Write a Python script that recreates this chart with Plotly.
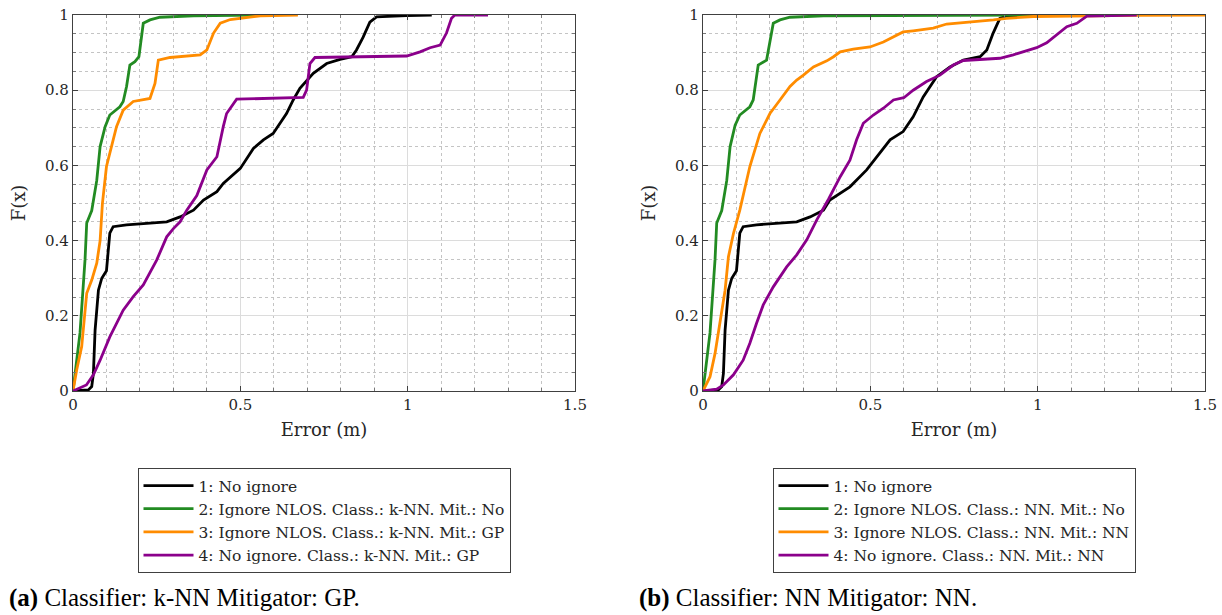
import plotly.graph_objects as go

# ---- (a) Classifier: k-NN, Mitigator: GP ----
a_none_x = [0, 0.046, 0.056, 0.061, 0.066, 0.076, 0.086, 0.1, 0.11, 0.12, 0.16, 0.28, 0.32, 0.36, 0.39, 0.43,
            0.449, 0.5, 0.539, 0.569, 0.598, 0.638, 0.658, 0.678, 0.718, 0.758, 0.798, 0.833, 0.847, 0.867,
            0.887, 0.907, 0.997, 1.072]
a_none_y = [0, 0.003, 0.012, 0.047, 0.162, 0.268, 0.3, 0.32, 0.42, 0.437, 0.442, 0.45, 0.463, 0.481, 0.508, 0.53,
            0.552, 0.592, 0.645, 0.668, 0.685, 0.738, 0.774, 0.805, 0.845, 0.871, 0.882, 0.889, 0.907, 0.941,
            0.981, 0.995, 0.9985, 1.0]

a_ign_x = [0, 0.021, 0.036, 0.041, 0.056, 0.061, 0.071, 0.081, 0.096, 0.11, 0.14, 0.15, 0.16, 0.17, 0.185,
           0.197, 0.21, 0.23, 0.26, 0.36, 0.568]
a_ign_y = [0, 0.155, 0.35, 0.447, 0.48, 0.508, 0.56, 0.65, 0.703, 0.734, 0.756, 0.77, 0.81, 0.867, 0.876,
           0.889, 0.978, 0.987, 0.994, 0.998, 1.0]

a_ignmit_x = [0, 0.011, 0.026, 0.041, 0.056, 0.071, 0.081, 0.088, 0.1, 0.116, 0.13, 0.15, 0.18, 0.23, 0.245,
              0.255, 0.29, 0.38, 0.4, 0.42, 0.44, 0.47, 0.56, 0.672]
a_ignmit_y = [0, 0.056, 0.118, 0.26, 0.295, 0.34, 0.40, 0.50, 0.597, 0.65, 0.703, 0.747, 0.77, 0.778, 0.818,
              0.88, 0.887, 0.894, 0.907, 0.952, 0.978, 0.988, 0.998, 1.0]

a_mit_x = [0, 0.04, 0.061, 0.081, 0.11, 0.15, 0.18, 0.21, 0.25, 0.28, 0.3, 0.32, 0.34, 0.37, 0.4, 0.43, 0.449,
           0.459, 0.489, 0.559, 0.688, 0.698, 0.708, 0.723, 0.997, 1.037, 1.067, 1.097, 1.116, 1.131, 1.141, 1.24]
a_mit_y = [0, 0.016, 0.043, 0.082, 0.144, 0.215, 0.251, 0.282, 0.348, 0.41, 0.432, 0.45, 0.481, 0.52, 0.588,
           0.623, 0.703, 0.738, 0.776, 0.778, 0.781, 0.8, 0.871, 0.887, 0.891, 0.902, 0.913, 0.92, 0.952, 0.991,
           1.0, 1.0]

# ---- (b) Classifier: NN, Mitigator: NN ----
b_none_x = [0, 0.046, 0.056, 0.061, 0.066, 0.076, 0.086, 0.1, 0.11, 0.12, 0.16, 0.28, 0.32, 0.36, 0.379, 0.439,
            0.489, 0.529, 0.559, 0.598, 0.628, 0.658, 0.698, 0.738, 0.778, 0.828, 0.848, 0.867, 0.887, 0.907,
            1.067]
b_none_y = [0, 0.003, 0.012, 0.047, 0.162, 0.268, 0.3, 0.32, 0.42, 0.437, 0.442, 0.45, 0.463, 0.481, 0.508,
            0.543, 0.588, 0.632, 0.668, 0.69, 0.729, 0.782, 0.836, 0.862, 0.88, 0.889, 0.907, 0.952, 0.991,
            0.997, 1.0]

b_ign_x = [0, 0.021, 0.036, 0.041, 0.056, 0.061, 0.071, 0.081, 0.096, 0.11, 0.14, 0.15, 0.165, 0.19, 0.21,
           0.23, 0.26, 0.36, 0.986]
b_ign_y = [0, 0.155, 0.35, 0.447, 0.48, 0.508, 0.56, 0.65, 0.707, 0.734, 0.756, 0.774, 0.867, 0.88, 0.978,
           0.987, 0.994, 0.998, 1.0]

b_ignmit_x = [0, 0.021, 0.036, 0.051, 0.066, 0.076, 0.091, 0.11, 0.125, 0.14, 0.17, 0.2, 0.23, 0.26, 0.28,
              0.3, 0.33, 0.37, 0.39, 0.41, 0.449, 0.499, 0.539, 0.569, 0.598, 0.628, 0.688, 0.728, 0.788, 0.868,
              0.907, 0.987, 1.285, 1.5]
b_ignmit_y = [0, 0.038, 0.1, 0.18, 0.268, 0.357, 0.419, 0.481, 0.535, 0.597, 0.685, 0.738, 0.774, 0.81, 0.827,
              0.84, 0.862, 0.878, 0.889, 0.902, 0.909, 0.915, 0.928, 0.941, 0.955, 0.958, 0.965, 0.976, 0.98,
              0.987, 0.991, 0.996, 0.999, 1.0]

b_mit_x = [0, 0.041, 0.061, 0.091, 0.12, 0.14, 0.16, 0.18, 0.21, 0.25, 0.28, 0.31, 0.34, 0.375, 0.41, 0.439,
           0.459, 0.479, 0.509, 0.539, 0.569, 0.6, 0.628, 0.668, 0.708, 0.748, 0.778, 0.828, 0.887, 0.927, 0.967,
           0.997, 1.027, 1.057, 1.087, 1.117, 1.147, 1.296]
b_mit_y = [0, 0.005, 0.016, 0.043, 0.082, 0.127, 0.18, 0.229, 0.277, 0.33, 0.362, 0.402, 0.455, 0.51, 0.57,
           0.614, 0.668, 0.712, 0.734, 0.752, 0.774, 0.78, 0.8, 0.823, 0.84, 0.867, 0.879, 0.882, 0.885, 0.894,
           0.905, 0.913, 0.926, 0.947, 0.969, 0.978, 0.997, 1.0]

labels_a = ["1: No ignore",
            "2: Ignore NLOS. Class.: k-NN. Mit.: No",
            "3: Ignore NLOS. Class.: k-NN. Mit.: GP",
            "4: No ignore. Class.: k-NN. Mit.: GP"]
labels_b = ["1: No ignore",
            "2: Ignore NLOS. Class.: NN. Mit.: No",
            "3: Ignore NLOS. Class.: NN. Mit.: NN",
            "4: No ignore. Class.: NN. Mit.: NN"]
colors = ["#000000", "#228B22", "#FF8C00", "#8B008B"]

x_tickvals = [0, 0.5, 1, 1.5]
x_ticktext = ["0", "0.5", "1", "1.5"]
y_tickvals = [0, 0.2, 0.4, 0.6, 0.8, 1]
y_ticktext = ["0", "0.2", "0.4", "0.6", "0.8", "1"]

captions = [("(a)", "Classifier: k-NN Mitigator: GP."),
            ("(b)", "Classifier: NN Mitigator: NN.")]

W, H = 1222, 615
TEX = "'DejaVu Serif', 'Liberation Serif', serif"
TIMES = "'Liberation Serif', serif"
INK = "#262626"

fig = go.Figure()

series_a = [(a_none_x, a_none_y), (a_ign_x, a_ign_y), (a_ignmit_x, a_ignmit_y), (a_mit_x, a_mit_y)]
series_b = [(b_none_x, b_none_y), (b_ign_x, b_ign_y), (b_ignmit_x, b_ignmit_y), (b_mit_x, b_mit_y)]

for (xs, ys), name, c in zip(series_a, labels_a, colors):
    fig.add_trace(go.Scatter(x=xs, y=ys, mode="lines", name=name, line=dict(color=c, width=2.8),
                             xaxis="x", yaxis="y", legend="legend"))
for (xs, ys), name, c in zip(series_b, labels_b, colors):
    fig.add_trace(go.Scatter(x=xs, y=ys, mode="lines", name=name, line=dict(color=c, width=2.8),
                             xaxis="x2", yaxis="y2", legend="legend2"))

# plot-area positions in pixels
left_px = (73, 575)
right_px = (703, 1205)
top_px, bot_px = 15, 391
ydom = [(H - bot_px) / H, (H - top_px) / H]

common = dict(
    showgrid=True, gridcolor="#dcdcdc", gridwidth=1,
    showline=True, linecolor="#404040", linewidth=1.2, mirror="ticks",
    ticks="inside", ticklen=5, tickcolor="#404040",
    zeroline=False, automargin=False,
    tickfont=dict(family=TEX, size=15, color=INK),
)


def xaxis_style(dom, anchor):
    return dict(
        domain=[dom[0] / W, dom[1] / W], range=[0, 1.5], anchor=anchor,
        tickmode="array", tickvals=x_tickvals, ticktext=x_ticktext,
        minor=dict(tickvals=[i / 10 for i in range(16)], showgrid=True, gridcolor="#c4c4c4",
                   griddash="dot", gridwidth=1, ticks="inside", ticklen=3, tickcolor="#777777"),
        title=dict(text="Error (m)", font=dict(family=TEX, size=18, color=INK), standoff=10),
        **common,
    )


def yaxis_style(anchor):
    return dict(
        domain=ydom, range=[0, 1], anchor=anchor,
        tickmode="array", tickvals=y_tickvals, ticktext=y_ticktext,
        minor=dict(tickvals=[i / 20 for i in range(21)], showgrid=True, gridcolor="#c4c4c4",
                   griddash="dot", gridwidth=1, ticks="inside", ticklen=3, tickcolor="#777777"),
        title=dict(text="F(x)", font=dict(family=TEX, size=18, color=INK), standoff=14),
        **common,
    )


legend_style = dict(
    yanchor="top", xanchor="center", y=(H - 468) / H,
    bgcolor="white", bordercolor="#404040", borderwidth=1,
    font=dict(family=TEX, size=15.5, color=INK),
    tracegroupgap=0, itemwidth=50,
)

fig.update_layout(
    width=W, height=H,
    margin=dict(l=0, r=0, t=0, b=0, autoexpand=False),
    paper_bgcolor="white", plot_bgcolor="white",
    xaxis=xaxis_style(left_px, "y"), yaxis=yaxis_style("x"),
    xaxis2=xaxis_style(right_px, "y2"), yaxis2=yaxis_style("x2"),
    legend=dict(x=(left_px[0] + left_px[1]) / 2 / W, **legend_style),
    legend2=dict(x=(right_px[0] + right_px[1]) / 2 / W, **legend_style),
    showlegend=True,
)

for (tag, text), x0 in zip(captions, (7, 637)):
    fig.add_annotation(
        x=x0 / W, y=(H - 598) / H, xref="paper", yref="paper",
        xanchor="left", yanchor="middle", showarrow=False,
        text=f"<b>{tag}</b> {text}",
        font=dict(family=TIMES, size=25, color="#000000"),
    )

fig.write_html("out.html")
